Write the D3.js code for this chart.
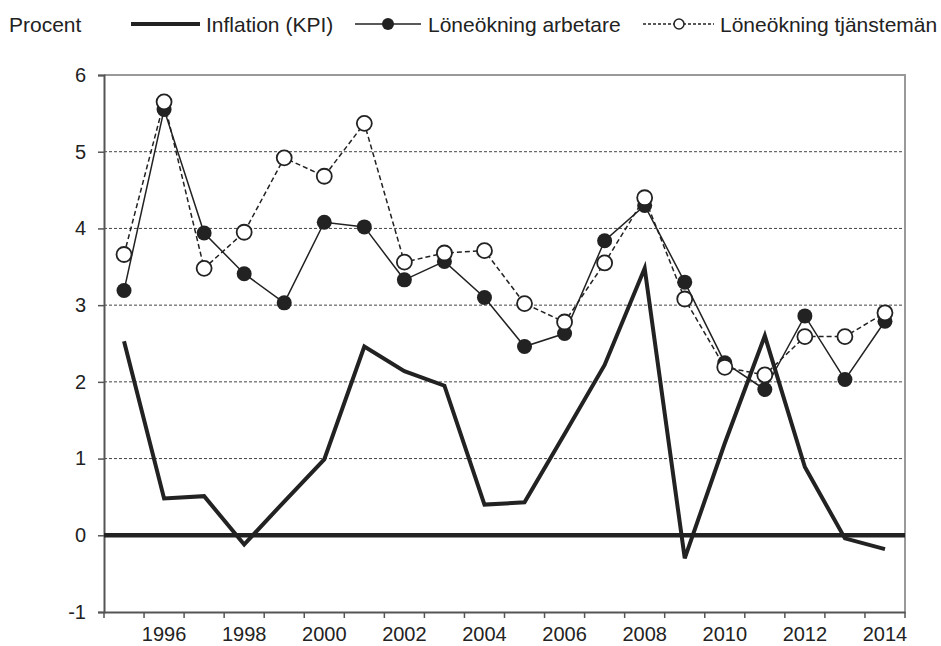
<!DOCTYPE html>
<html>
<head>
  <meta charset="utf-8">
  <title>Inflation och löneökning</title>
  <script src="https://cdnjs.cloudflare.com/ajax/libs/d3/7.8.5/d3.min.js"></script>
  <style>
    body { margin: 0; background: #fff; }
    text { font-family: "Liberation Sans", Arial, sans-serif; fill: #222; }
  </style>
</head>
<body>
<div id="vis"></div>
<script>
var w = 941, h = 646;
var m = {top: 75, right: 36, bottom: 34, left: 104};

var years = [1995,1996,1997,1998,1999,2000,2001,2002,2003,2004,
             2005,2006,2007,2008,2009,2010,2011,2012,2013,2014];
var inflation = [2.53,0.48,0.51,-0.12,0.44,0.99,2.46,2.14,1.95,0.40,
                 0.43,1.32,2.22,3.48,-0.30,1.20,2.60,0.89,-0.04,-0.18];
var arbetare = [3.19,5.55,3.94,3.41,3.03,4.08,4.02,3.33,3.57,3.10,
                2.46,2.63,3.84,4.30,3.30,2.25,1.90,2.86,2.03,2.79];
var tjansteman = [3.66,5.65,3.48,3.95,4.92,4.68,5.37,3.56,3.68,3.71,
                  3.02,2.78,3.55,4.40,3.08,2.19,2.09,2.59,2.59,2.90];
var yTicks = [-1,0,1,2,3,4,5,6];
var xLabels = [1996,1998,2000,2002,2004,2006,2008,2010,2012,2014];

var svg = d3.select("#vis").append("svg")
  .attr("width", w)
  .attr("height", h);

var x = d3.scaleBand().domain(years).range([m.left, w - m.right]).padding(0);
var y = d3.scaleLinear().domain([-1, 6]).range([h - m.bottom, m.top]);
var cx = function(d, i) { return x(years[i]) + x.bandwidth() / 2; };

// grid lines (dotted)
svg.append("g").selectAll("line").data([1,2,3,4,5]).enter().append("line")
  .attr("x1", m.left).attr("x2", w - m.right)
  .attr("y1", function(d) { return y(d); })
  .attr("y2", function(d) { return y(d); })
  .attr("stroke", "#444")
  .attr("stroke-width", 1)
  .attr("stroke-dasharray", "3,2");

// top and right frame
svg.append("path")
  .attr("d", "M" + m.left + "," + y(6) + "H" + (w - m.right) + "V" + y(-1))
  .attr("fill", "none")
  .attr("stroke", "#999")
  .attr("stroke-width", 2);

// y axis
var yAxis = svg.append("g")
  .attr("transform", "translate(" + m.left + ",0)")
  .call(d3.axisLeft(y).tickValues(yTicks).tickSize(6).tickPadding(12)
    .tickFormat(function(d) { return String(d); }));
yAxis.select(".domain").attr("stroke", "#555").attr("stroke-width", 2);
yAxis.selectAll(".tick line").attr("stroke", "#555").attr("stroke-width", 1.5);
yAxis.selectAll(".tick text").attr("font-size", "20px").attr("fill", "#222")
  .style("font-family", "Liberation Sans, Arial, sans-serif");

// x axis: labels centred in categories, ticks on the boundaries
var xAxis = svg.append("g")
  .attr("transform", "translate(0," + (h - m.bottom) + ")")
  .call(d3.axisBottom(x).tickValues(xLabels).tickSize(0).tickPadding(15));
xAxis.select(".domain").attr("stroke", "#555").attr("stroke-width", 2);
xAxis.selectAll(".tick text").attr("font-size", "20px").attr("fill", "#222")
  .style("font-family", "Liberation Sans, Arial, sans-serif");
xAxis.selectAll("line.bound").data(years.concat(["end"])).enter().append("line")
  .attr("class", "bound")
  .attr("x1", function(d) { return d === "end" ? x.range()[1] : x(d); })
  .attr("x2", function(d) { return d === "end" ? x.range()[1] : x(d); })
  .attr("y1", 0).attr("y2", 6)
  .attr("stroke", "#555").attr("stroke-width", 1.5);

// zero line
svg.append("line")
  .attr("x1", m.left).attr("x2", w - m.right)
  .attr("y1", y(0)).attr("y2", y(0))
  .attr("stroke", "#222").attr("stroke-width", 4.5);

var line = d3.line().x(cx).y(function(d) { return y(d); });

// inflation
svg.append("path").datum(inflation)
  .attr("d", line)
  .attr("fill", "none")
  .attr("stroke", "#222")
  .attr("stroke-width", 4);

// arbetare
svg.append("path").datum(arbetare)
  .attr("d", line)
  .attr("fill", "none")
  .attr("stroke", "#222")
  .attr("stroke-width", 1.5);
svg.selectAll("circle.arb").data(arbetare).enter().append("circle")
  .attr("class", "arb")
  .attr("cx", cx).attr("cy", function(d) { return y(d); })
  .attr("r", 7.5)
  .attr("fill", "#222");

// tjänstemän
svg.append("path").datum(tjansteman)
  .attr("d", line)
  .attr("fill", "none")
  .attr("stroke", "#222")
  .attr("stroke-width", 1.5)
  .attr("stroke-dasharray", "5,3");
svg.selectAll("circle.tj").data(tjansteman).enter().append("circle")
  .attr("class", "tj")
  .attr("cx", cx).attr("cy", function(d) { return y(d); })
  .attr("r", 7.5)
  .attr("fill", "#fff")
  .attr("stroke", "#222")
  .attr("stroke-width", 1.8);

// legend
var ly = 24;
svg.append("text").attr("x", 9).attr("y", ly + 7.5).attr("font-size", "21px").text("Procent");

svg.append("line").attr("x1", 131).attr("x2", 200).attr("y1", ly).attr("y2", ly)
  .attr("stroke", "#222").attr("stroke-width", 4);
svg.append("text").attr("x", 206).attr("y", ly + 7.5).attr("font-size", "21px").text("Inflation (KPI)");

svg.append("line").attr("x1", 355).attr("x2", 421).attr("y1", ly).attr("y2", ly)
  .attr("stroke", "#222").attr("stroke-width", 1.5);
svg.append("circle").attr("cx", 388).attr("cy", ly).attr("r", 6).attr("fill", "#222");
svg.append("text").attr("x", 428).attr("y", ly + 7.5).attr("font-size", "21px").text("Löneökning arbetare");

svg.append("line").attr("x1", 643).attr("x2", 714).attr("y1", ly).attr("y2", ly)
  .attr("stroke", "#222").attr("stroke-width", 1.5).attr("stroke-dasharray", "3,2");
svg.append("circle").attr("cx", 679).attr("cy", ly).attr("r", 5)
  .attr("fill", "#fff").attr("stroke", "#222").attr("stroke-width", 1.5);
svg.append("text").attr("x", 720).attr("y", ly + 7.5).attr("font-size", "21px").text("Löneökning tjänstemän");
</script>
</body>
</html>
